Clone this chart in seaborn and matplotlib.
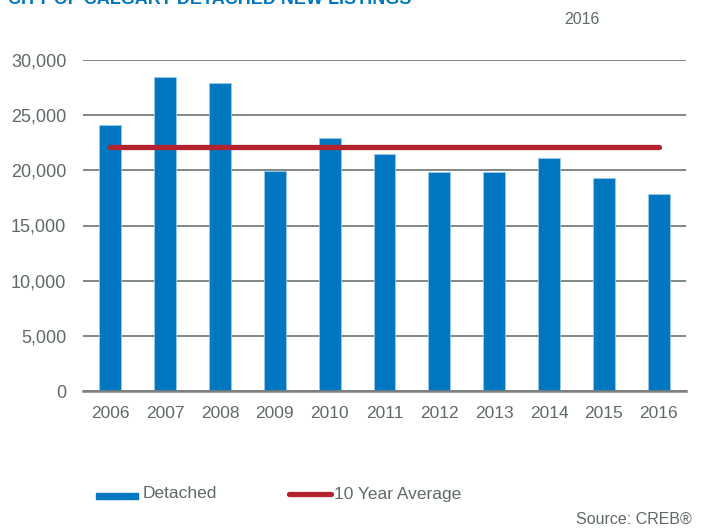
import matplotlib
matplotlib.use("Agg")
import matplotlib.pyplot as plt
from matplotlib.patches import Rectangle
from matplotlib.lines import Line2D
from matplotlib.ticker import FuncFormatter
import seaborn as sns
import pandas as pd

years = ["2006", "2007", "2008", "2009", "2010", "2011",
         "2012", "2013", "2014", "2015", "2016"]
detached = [24100, 28500, 27950, 19900, 22900, 21450,
            19850, 19880, 21100, 19300, 17900]
ten_year_avg = [22100] * len(years)
y_ticks = [0, 5000, 10000, 15000, 20000, 25000, 30000]

BLUE = "#0077c0"
RED = "#b3232d"
GRID = "#5c6864"
TEXT = "#5f6a68"

sns.set_theme(style="white")
plt.rcParams["font.family"] = ["Liberation Sans", "DejaVu Sans"]

df = pd.DataFrame({"year": years, "listings": detached})

fig = plt.figure(figsize=(7.07, 5.29), dpi=100)
ax = fig.add_axes([83 / 707, 1 - 391 / 529, (686 - 83) / 707, (391 - 60) / 529])

sns.barplot(data=df, x="year", y="listings", color=BLUE, width=0.4,
            saturation=1, edgecolor="#9cc8e6", linewidth=0.6, ax=ax, zorder=3)

ax.plot(range(len(years)), ten_year_avg, color=RED, lw=3.8,
        solid_capstyle="round", zorder=4)

ax.set_xlim(-0.5, len(years) - 0.5)
ax.set_ylim(0, 30000)
ax.set_yticks(y_ticks)
ax.yaxis.set_major_formatter(FuncFormatter(lambda v, p: f"{int(v):,}"))
ax.grid(axis="y", color=GRID, lw=1.1, zorder=0)
ax.grid(axis="x", visible=False)
for s in ["top", "right", "left"]:
    ax.spines[s].set_visible(False)
ax.spines["bottom"].set_color("#7f7f7f")
ax.spines["bottom"].set_linewidth(1.8)
ax.spines["bottom"].set_zorder(5)
ax.set_xlabel("")
ax.set_ylabel("")
ax.tick_params(axis="y", length=0, pad=12, labelsize=13, labelcolor=TEXT)
ax.tick_params(axis="x", length=0, pad=10.5, labelsize=12.5, labelcolor=TEXT)

# Title (partially clipped at the top edge) and year
fig.text(8 / 707, 1 - 4 / 529, "CITY OF CALGARY DETACHED NEW LISTINGS",
         color=BLUE, fontsize=13, fontweight="bold", ha="left", va="baseline")
fig.text(582 / 707, 1 - 19 / 529, "2016", color=TEXT, fontsize=11.5,
         ha="center", va="center")

# Legend
fig.patches.append(Rectangle((96 / 707, 1 - 499 / 529), 42 / 707, 6 / 529,
                             transform=fig.transFigure, color=BLUE))
fig.text(143 / 707, 1 - 494 / 529, "Detached", color=TEXT, fontsize=12.5,
         ha="left", va="center")
fig.lines.append(Line2D([289 / 707, 331 / 707], [1 - 494 / 529, 1 - 494 / 529],
                        transform=fig.transFigure, color=RED, lw=3.8,
                        solid_capstyle="round"))
fig.text(334 / 707, 1 - 494 / 529, "10 Year Average", color=TEXT, fontsize=12.5,
         ha="left", va="center")

fig.text(692 / 707, 1 - 519 / 529, "Source: CREB®", color=TEXT, fontsize=11.5,
         ha="right", va="center")

fig.savefig("out.png", dpi=100)
